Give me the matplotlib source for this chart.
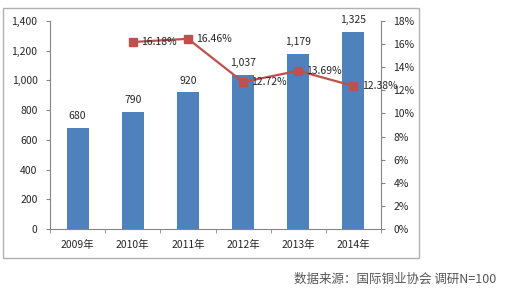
import matplotlib
matplotlib.use("Agg")
import matplotlib.pyplot as plt
from matplotlib.patches import Rectangle
from matplotlib.ticker import FuncFormatter, MultipleLocator, FixedLocator

plt.rcParams['font.family'] = ['Noto Sans CJK SC', 'DejaVu Sans']

# data
years = ["2009年", "2010年", "2011年", "2012年", "2013年", "2014年"]
volume = [680, 790, 920, 1037, 1179, 1325]
growth_years = ["2010年", "2011年", "2012年", "2013年", "2014年"]
growth = [16.18, 16.46, 12.72, 13.69, 12.38]

BAR = "#4F81BD"
LINE = "#C0504D"
GRID = "#868686"
TXT = "#262626"

fig = plt.figure(figsize=(5.25, 2.92), dpi=100)
fig.patch.set_facecolor("white")

# outer chart border
fig.patches.append(Rectangle((3 / 525, 1 - 258 / 292), 416 / 525, 250 / 292,
                             transform=fig.transFigure, fill=False,
                             edgecolor="#B0B0B0", lw=1.0))

ax = fig.add_axes([50 / 525, 1 - 229 / 292, 331 / 525, 208 / 292])
x = list(range(len(years)))
ax.bar(x, volume, width=0.4, color=BAR, zorder=2)
for xi, v in zip(x, volume):
    ax.text(xi, v + 45, f"{v:,}", ha="center", va="bottom", fontsize=7.5, color=TXT)

ax.set_xlim(-0.5, len(years) - 0.5)
ax.set_ylim(0, 1400)
ax.yaxis.set_major_locator(MultipleLocator(200))
ax.yaxis.set_major_formatter(FuncFormatter(lambda v, p: f"{int(v):,}"))
ax.set_xticks(x)
ax.set_xticklabels(years)
ax.xaxis.set_minor_locator(FixedLocator([i - 0.5 for i in range(len(years) + 1)]))
ax.tick_params(axis="x", which="major", length=0, pad=8, labelsize=7.5, colors=TXT)
ax.tick_params(axis="x", which="minor", length=3, color=GRID)
ax.tick_params(axis="y", length=3, color=GRID, labelsize=7.5, labelcolor=TXT, pad=6)
for s in ["top", "right"]:
    ax.spines[s].set_visible(False)
for s in ["left", "bottom"]:
    ax.spines[s].set_color(GRID)
    ax.spines[s].set_linewidth(0.8)

ax2 = ax.twinx()
gx = [years.index(y) for y in growth_years]
ax2.plot(gx, growth, color=LINE, lw=1.6, marker="s", markersize=5.5, zorder=3)
for xi, g in zip(gx, growth):
    ax2.text(xi + 0.15, g, f"{g:.2f}%", ha="left", va="center", fontsize=7.5, color=TXT)
ax2.set_ylim(0, 18)
ax2.yaxis.set_major_locator(MultipleLocator(2))
ax2.yaxis.set_major_formatter(FuncFormatter(lambda v, p: f"{int(v)}%"))
ax2.tick_params(axis="y", length=3, color=GRID, labelsize=7.5, labelcolor=TXT, pad=6)
for s in ["top", "left", "bottom"]:
    ax2.spines[s].set_visible(False)
ax2.spines["right"].set_color(GRID)
ax2.spines["right"].set_linewidth(0.8)

fig.text(496 / 525, 1 - 279 / 292, "数据来源：国际铜业协会 调研N=100",
         ha="right", va="center", fontsize=9, color="#555555")

fig.savefig("out.png", dpi=100)
